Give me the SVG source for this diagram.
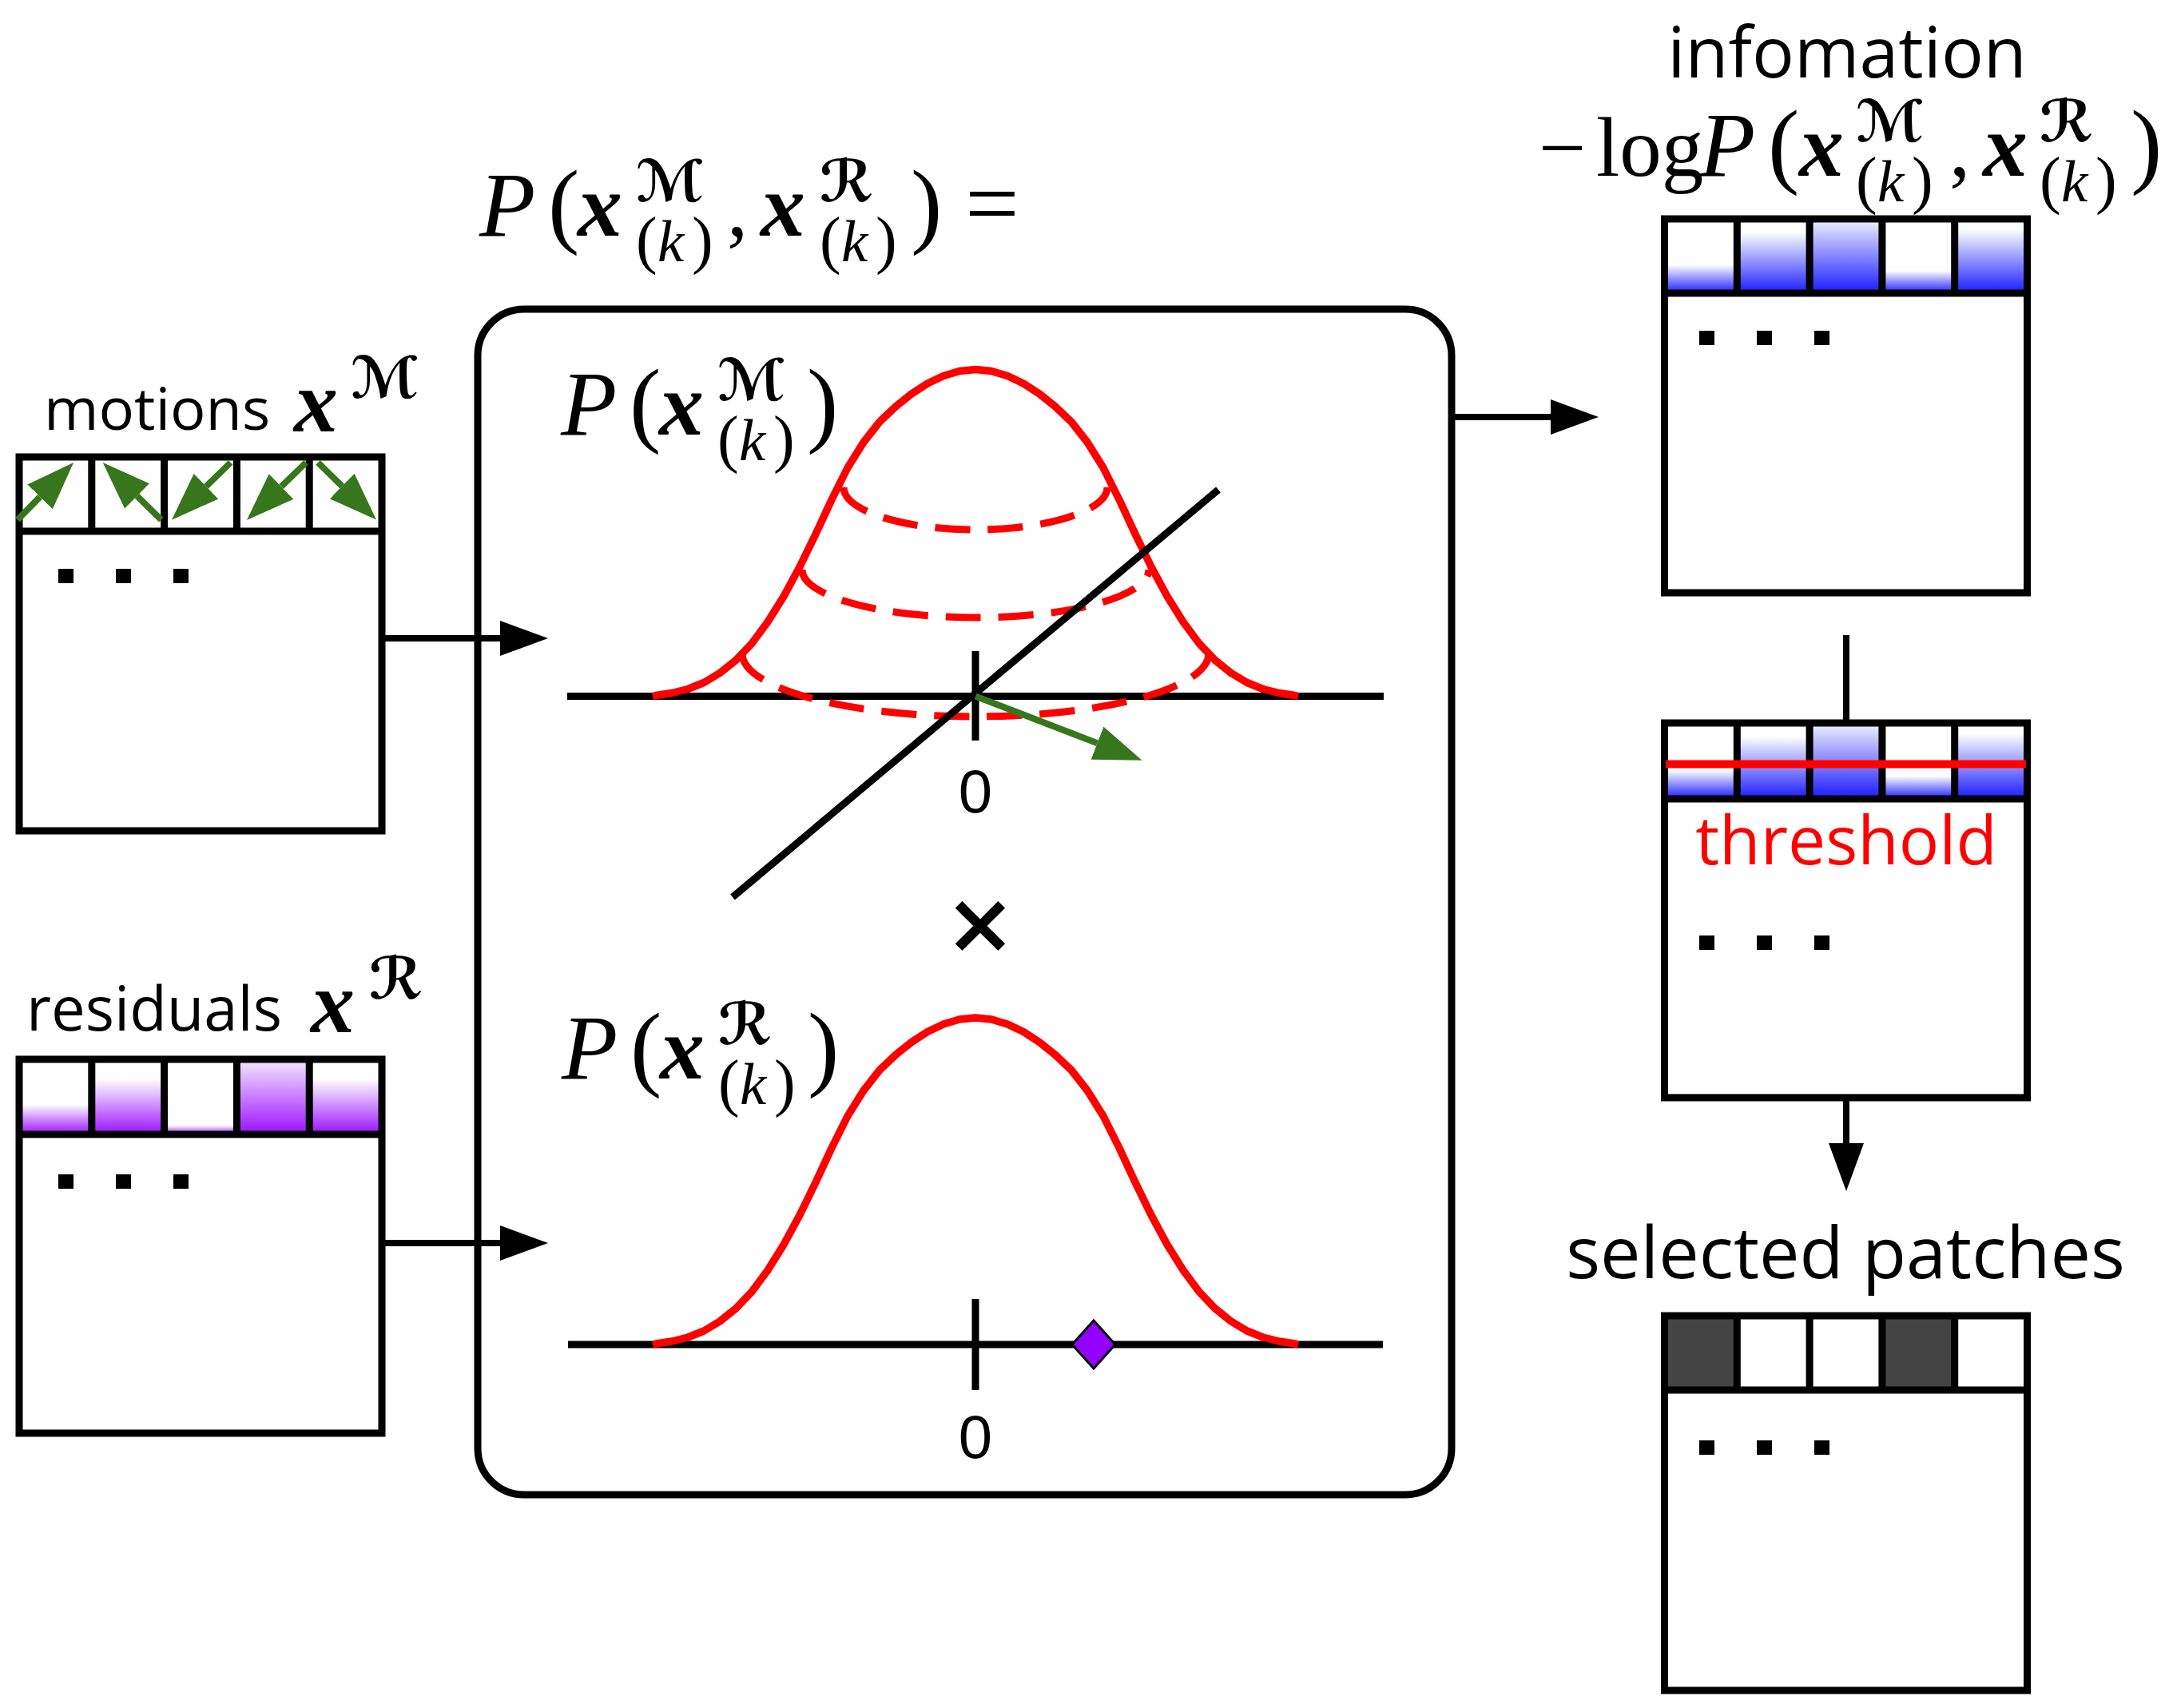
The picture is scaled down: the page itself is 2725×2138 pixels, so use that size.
<svg xmlns="http://www.w3.org/2000/svg" xmlns:xlink="http://www.w3.org/1999/xlink" width="2725" height="2138" viewBox="0 0 2725 2138">
<defs>
<style>
.box{fill:none;stroke:#000;stroke-width:9}
.grid{stroke:#000;stroke-width:9}
.dot{fill:#000}
.lbl{font-family:"Open Sans","DejaVu Sans",sans-serif;fill:#000}
.mi{font-family:"Liberation Serif","DejaVu Serif",serif;font-style:italic}
.mb{font-family:"Liberation Serif","DejaVu Serif",serif;font-style:italic;font-weight:bold}
.mr{font-family:"Liberation Serif","DejaVu Serif",serif}
.cal{font-family:"DejaVu Serif","DejaVu Sans",serif;font-weight:bold}
.num{font-family:"Liberation Sans",Arial,sans-serif;fill:#000}
.axis{stroke:#000;stroke-width:9;fill:none}
.bell{fill:none;stroke:#ff0000;stroke-width:9.5;stroke-linejoin:round}
.dash{fill:none;stroke:#ff0000;stroke-width:9;stroke-dasharray:44 22}
.conn{stroke:#000;stroke-width:8;fill:none}
.garr{stroke:#38761d;stroke-width:8;fill:none}
</style>
<marker id="ah" markerUnits="userSpaceOnUse" viewBox="0 -22 60 44" refX="0" refY="0" markerWidth="60" markerHeight="44" orient="auto"><path d="M0,-22 L60,0 L0,22 z" fill="#000"/></marker>
<marker id="gh" markerUnits="userSpaceOnUse" viewBox="0 -22 60 44" refX="0" refY="0" markerWidth="60" markerHeight="44" orient="auto"><path d="M0,-22 L60,0 L0,22 z" fill="#38761d"/></marker>
<linearGradient id="p1" x1="0" y1="0" x2="0" y2="1"><stop offset="0.6" stop-color="#fff"/><stop offset="1" stop-color="#9b10ff"/></linearGradient>
<linearGradient id="p2" x1="0" y1="0" x2="0" y2="1"><stop offset="0.26" stop-color="#fff"/><stop offset="1" stop-color="#9b10ff"/></linearGradient>
<linearGradient id="p3" x1="0" y1="0" x2="0" y2="1"><stop offset="0.88" stop-color="#fff"/><stop offset="1" stop-color="#9b10ff"/></linearGradient>
<linearGradient id="p4" x1="0" y1="0" x2="0" y2="1"><stop offset="0" stop-color="#f6eaff"/><stop offset="1" stop-color="#9b10ff"/></linearGradient>
<linearGradient id="b1" x1="0" y1="0" x2="0" y2="1"><stop offset="0.62" stop-color="#fff"/><stop offset="1" stop-color="#1a1aff"/></linearGradient>
<linearGradient id="b2" x1="0" y1="0" x2="0" y2="1"><stop offset="0.18" stop-color="#fff"/><stop offset="1" stop-color="#1a1aff"/></linearGradient>
<linearGradient id="b3" x1="0" y1="0" x2="0" y2="1"><stop offset="0" stop-color="#f2f2ff"/><stop offset="1" stop-color="#1a1aff"/></linearGradient>
<linearGradient id="b4" x1="0" y1="0" x2="0" y2="1"><stop offset="0.7" stop-color="#fff"/><stop offset="1" stop-color="#1a1aff"/></linearGradient>
<linearGradient id="b5" x1="0" y1="0" x2="0" y2="1"><stop offset="0.14" stop-color="#fff"/><stop offset="1" stop-color="#1a1aff"/></linearGradient>
<path id="bellp" class="bell" d="M-404,0 L-400,-1 L-380,-4 L-360,-9 L-340,-17 L-320,-29 L-300,-45 L-280,-66 L-260,-93 L-240,-125 L-220,-162 L-200,-203 L-180,-246 L-160,-286 L-140,-318 L-120,-343.5 L-100,-362.5 L-80,-378.5 L-60,-391.5 L-40,-401 L-20,-407 L0,-409 L20,-407 L40,-401 L60,-391.5 L80,-378.5 L100,-362.5 L120,-343.5 L140,-318 L160,-286 L180,-246 L200,-203 L220,-162 L240,-125 L260,-93 L280,-66 L300,-45 L320,-29 L340,-17 L360,-9 L380,-4 L400,-1 L404,0"/>
</defs>
<rect width="2725" height="2138" fill="#fff"/>

<!-- motions -->
<g id="motions">
<text class="lbl" x="55" y="538" font-size="74">motions</text>
<text><tspan class="mb" x="368" y="540" font-size="110">x</tspan><tspan class="cal" x="439" y="498" font-size="72">ℳ</tspan></text>
<rect x="24" y="572" width="454" height="468" fill="#fff"/>
<rect class="box" x="24" y="572" width="454" height="468"/>
<line class="grid" x1="24" y1="665" x2="478" y2="665"/>
<line class="grid" x1="114.8" y1="572" x2="114.8" y2="665"/>
<line class="grid" x1="205.6" y1="572" x2="205.6" y2="665"/>
<line class="grid" x1="296.4" y1="572" x2="296.4" y2="665"/>
<line class="grid" x1="387.2" y1="572" x2="387.2" y2="665"/>
<rect class="dot" x="73" y="712" width="19" height="18"/>
<rect class="dot" x="145" y="712" width="19" height="18"/>
<rect class="dot" x="217" y="712" width="19" height="18"/>
<line class="garr" x1="22" y1="650.6" x2="50.1" y2="621.9" marker-end="url(#gh)"/>
<line class="garr" x1="201.8" y1="650.6" x2="171.5" y2="620.9" marker-end="url(#gh)"/>
<line class="garr" x1="288.6" y1="579" x2="258" y2="608.8" marker-end="url(#gh)"/>
<line class="garr" x1="383" y1="579" x2="352" y2="609.1" marker-end="url(#gh)"/>
<line class="garr" x1="398" y1="579" x2="428.2" y2="608.6" marker-end="url(#gh)"/>
</g>

<!-- residuals -->
<g id="residuals">
<text class="lbl" x="33" y="1290" font-size="76">residuals</text>
<text><tspan class="mb" x="389" y="1292" font-size="110">x</tspan><tspan class="cal" x="462" y="1250" font-size="72">ℛ</tspan></text>
<rect x="24" y="1326" width="454" height="468" fill="#fff"/>
<rect x="24" y="1326" width="90.8" height="94" fill="url(#p1)"/>
<rect x="114.8" y="1326" width="90.8" height="94" fill="url(#p2)"/>
<rect x="205.6" y="1326" width="90.8" height="94" fill="url(#p3)"/>
<rect x="296.4" y="1326" width="90.8" height="94" fill="url(#p4)"/>
<rect x="387.2" y="1326" width="90.8" height="94" fill="url(#p2)"/>
<rect class="box" x="24" y="1326" width="454" height="468"/>
<line class="grid" x1="24" y1="1420" x2="478" y2="1420"/>
<line class="grid" x1="114.8" y1="1326" x2="114.8" y2="1420"/>
<line class="grid" x1="205.6" y1="1326" x2="205.6" y2="1420"/>
<line class="grid" x1="296.4" y1="1326" x2="296.4" y2="1420"/>
<line class="grid" x1="387.2" y1="1326" x2="387.2" y2="1420"/>
<rect class="dot" x="73" y="1470" width="19" height="18"/>
<rect class="dot" x="145" y="1470" width="19" height="18"/>
<rect class="dot" x="217" y="1470" width="19" height="18"/>
</g>

<!-- joint formula -->
<g id="joint-formula">
<text><tspan class="mi" x="600" y="295" font-size="115">P</tspan><tspan class="mr" x="686" y="295" font-size="118">(</tspan><tspan class="mb" x="723" y="295" font-size="112">x</tspan><tspan class="cal" x="796" y="252" font-size="72">ℳ</tspan><tspan class="mr" x="796" y="327" font-size="80">(</tspan><tspan class="mi" x="823" y="327" font-size="75">k</tspan><tspan class="mr" x="866" y="327" font-size="80">)</tspan><tspan class="mr" x="910" y="295" font-size="105">,</tspan><tspan class="mb" x="952" y="295" font-size="112">x</tspan><tspan class="cal" x="1026" y="252" font-size="72">ℛ</tspan><tspan class="mr" x="1026" y="327" font-size="80">(</tspan><tspan class="mi" x="1053" y="327" font-size="75">k</tspan><tspan class="mr" x="1096" y="327" font-size="80">)</tspan><tspan class="mr" x="1140" y="295" font-size="118">)</tspan><tspan class="mr" x="1208" y="295" font-size="120">=</tspan></text>
</g>

<!-- probability model box -->
<g id="model">
<rect class="box" x="598" y="387" width="1219" height="1484" rx="58" ry="58" stroke-width="8"/>
<text><tspan class="mi" x="702" y="544" font-size="115">P</tspan><tspan class="mr" x="788" y="544" font-size="118">(</tspan><tspan class="mb" x="825" y="544" font-size="112">x</tspan><tspan class="cal" x="898" y="501" font-size="72">ℳ</tspan><tspan class="mr" x="898" y="576" font-size="80">(</tspan><tspan class="mi" x="925" y="576" font-size="75">k</tspan><tspan class="mr" x="968" y="576" font-size="80">)</tspan><tspan class="mr" x="1010" y="544" font-size="118">)</tspan></text>
<line class="axis" x1="710" y1="871.5" x2="1732" y2="871.5"/>
<use xlink:href="#bellp" transform="translate(1221,871.5)"/>
<path class="dash" d="M1056,610 A165,53 0 0 0 1386,610"/>
<path class="dash" d="M1004,713 A217,60 0 0 0 1438,713"/>
<path class="dash" d="M929,818 A292,79 0 0 0 1513,818"/>
<line class="axis" x1="917" y1="1123" x2="1525" y2="613" stroke-width="8"/>
<line class="axis" x1="1221" y1="815" x2="1221" y2="927" stroke-width="8"/>
<line class="garr" x1="1221" y1="871.5" x2="1373.5" y2="930.2" stroke-width="6" marker-end="url(#gh)"/>
<text class="num" x="1221" y="1017" font-size="76" text-anchor="middle">0</text>
<text class="num" x="1227" y="1192" font-size="106" font-weight="bold" text-anchor="middle" style="font-family:'DejaVu Sans',sans-serif">×</text>
<text><tspan class="mi" x="703" y="1350" font-size="115">P</tspan><tspan class="mr" x="789" y="1350" font-size="118">(</tspan><tspan class="mb" x="826" y="1350" font-size="112">x</tspan><tspan class="cal" x="899" y="1307" font-size="72">ℛ</tspan><tspan class="mr" x="899" y="1382" font-size="80">(</tspan><tspan class="mi" x="926" y="1382" font-size="75">k</tspan><tspan class="mr" x="969" y="1382" font-size="80">)</tspan><tspan class="mr" x="1011" y="1350" font-size="118">)</tspan></text>
<line class="axis" x1="711" y1="1683" x2="1731" y2="1683"/>
<use xlink:href="#bellp" transform="translate(1221,1683)"/>
<line class="axis" x1="1221" y1="1626" x2="1221" y2="1740" stroke-width="8"/>
<polygon points="1369,1653 1396,1683 1369,1713 1342,1683" fill="#9400ff" stroke="#000" stroke-width="3"/>
<text class="num" x="1221" y="1825" font-size="76" text-anchor="middle">0</text>
</g>

<!-- information -->
<g id="information">
<text class="lbl" x="2312" y="97" font-size="88" text-anchor="middle">infomation</text>
<text><tspan class="mr" x="1926" y="220" font-size="105">−</tspan><tspan class="mr" x="1998" y="220" font-size="105">log</tspan><tspan class="mi" x="2127" y="220" font-size="115">P</tspan><tspan class="mr" x="2213" y="220" font-size="118">(</tspan><tspan class="mb" x="2252" y="220" font-size="112">x</tspan><tspan class="cal" x="2323" y="177" font-size="72">ℳ</tspan><tspan class="mr" x="2323" y="252" font-size="80">(</tspan><tspan class="mi" x="2350" y="252" font-size="75">k</tspan><tspan class="mr" x="2393" y="252" font-size="80">)</tspan><tspan class="mr" x="2440" y="220" font-size="105">,</tspan><tspan class="mb" x="2482" y="220" font-size="112">x</tspan><tspan class="cal" x="2553" y="177" font-size="72">ℛ</tspan><tspan class="mr" x="2553" y="252" font-size="80">(</tspan><tspan class="mi" x="2580" y="252" font-size="75">k</tspan><tspan class="mr" x="2623" y="252" font-size="80">)</tspan><tspan class="mr" x="2667" y="220" font-size="118">)</tspan></text>
<rect x="2083.5" y="274" width="454" height="468" fill="#fff"/>
<rect x="2083.5" y="274" width="90.8" height="93" fill="url(#b1)"/>
<rect x="2174.3" y="274" width="90.8" height="93" fill="url(#b2)"/>
<rect x="2265.1" y="274" width="90.8" height="93" fill="url(#b3)"/>
<rect x="2355.9" y="274" width="90.8" height="93" fill="url(#b4)"/>
<rect x="2446.7" y="274" width="90.8" height="93" fill="url(#b5)"/>
<rect class="box" x="2083.5" y="274" width="454" height="468"/>
<line class="grid" x1="2083.5" y1="367" x2="2537.5" y2="367"/>
<line class="grid" x1="2174.3" y1="274" x2="2174.3" y2="367"/>
<line class="grid" x1="2265.1" y1="274" x2="2265.1" y2="367"/>
<line class="grid" x1="2355.9" y1="274" x2="2355.9" y2="367"/>
<line class="grid" x1="2446.7" y1="274" x2="2446.7" y2="367"/>
<rect class="dot" x="2127" y="414" width="19" height="18"/>
<rect class="dot" x="2199" y="414" width="19" height="18"/>
<rect class="dot" x="2271" y="414" width="19" height="18"/>
</g>

<!-- threshold -->
<g id="threshold">
<rect x="2083.5" y="905" width="454" height="469" fill="#fff"/>
<rect x="2083.5" y="905" width="90.8" height="95" fill="url(#b1)"/>
<rect x="2174.3" y="905" width="90.8" height="95" fill="url(#b2)"/>
<rect x="2265.1" y="905" width="90.8" height="95" fill="url(#b3)"/>
<rect x="2355.9" y="905" width="90.8" height="95" fill="url(#b4)"/>
<rect x="2446.7" y="905" width="90.8" height="95" fill="url(#b5)"/>
<rect class="box" x="2083.5" y="905" width="454" height="469"/>
<line class="grid" x1="2083.5" y1="1000" x2="2537.5" y2="1000"/>
<line class="grid" x1="2174.3" y1="905" x2="2174.3" y2="1000"/>
<line class="grid" x1="2265.1" y1="905" x2="2265.1" y2="1000"/>
<line class="grid" x1="2355.9" y1="905" x2="2355.9" y2="1000"/>
<line class="grid" x1="2446.7" y1="905" x2="2446.7" y2="1000"/>
<line x1="2085" y1="956.5" x2="2536" y2="956.5" stroke="#ff0000" stroke-width="10"/>
<text class="lbl" x="2311" y="1082" font-size="84" text-anchor="middle" style="fill:#ff0000">threshold</text>
<rect class="dot" x="2127" y="1171" width="19" height="18"/>
<rect class="dot" x="2199" y="1171" width="19" height="18"/>
<rect class="dot" x="2271" y="1171" width="19" height="18"/>
</g>

<!-- selected patches -->
<g id="selected">
<text class="lbl" x="2310" y="1600" font-size="90" text-anchor="middle">selected patches</text>
<rect x="2083.5" y="1647" width="454" height="469" fill="#fff"/>
<rect x="2083.5" y="1647" width="90.8" height="93" fill="#444"/>
<rect x="2355.9" y="1647" width="90.8" height="93" fill="#444"/>
<rect class="box" x="2083.5" y="1647" width="454" height="469"/>
<line class="grid" x1="2083.5" y1="1740" x2="2537.5" y2="1740"/>
<line class="grid" x1="2174.3" y1="1647" x2="2174.3" y2="1740"/>
<line class="grid" x1="2265.1" y1="1647" x2="2265.1" y2="1740"/>
<line class="grid" x1="2355.9" y1="1647" x2="2355.9" y2="1740"/>
<line class="grid" x1="2446.7" y1="1647" x2="2446.7" y2="1740"/>
<rect class="dot" x="2127" y="1803" width="19" height="18"/>
<rect class="dot" x="2199" y="1803" width="19" height="18"/>
<rect class="dot" x="2271" y="1803" width="19" height="18"/>
</g>

<!-- connectors -->
<g id="connectors">
<line class="conn" x1="478" y1="799" x2="626" y2="799" marker-end="url(#ah)"/>
<line class="conn" x1="478" y1="1556" x2="626" y2="1556" marker-end="url(#ah)"/>
<line class="conn" x1="1821" y1="522" x2="1941" y2="522" marker-end="url(#ah)"/>
<line class="conn" x1="2311" y1="795" x2="2311" y2="905"/>
<line class="conn" x1="2311" y1="1374" x2="2311" y2="1431" marker-end="url(#ah)"/>
</g>
</svg>
